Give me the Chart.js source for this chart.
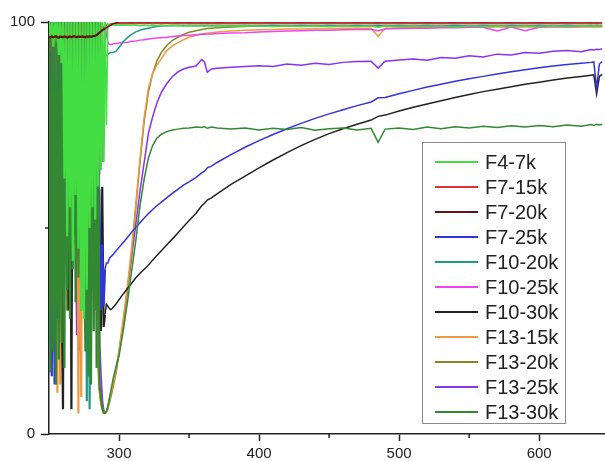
<!DOCTYPE html>
<html>
<head>
<meta charset="utf-8">
<script src="https://cdn.jsdelivr.net/npm/chart.js@4.4.1/dist/chart.umd.min.js"></script>
<style>
  html, body { margin: 0; padding: 0; background: #fff; }
  #wrap { width: 605px; height: 461px; }
</style>
</head>
<body>
<div id="wrap"><canvas id="chart" width="605" height="461"></canvas></div>
<script>
// wavelength (nm) — dense in the noisy region, coarser on the smooth part
const wavelength = [
  250, 251, 252, 253, 254, 255, 256, 257, 258, 259,
  260, 261, 262, 263, 264, 265, 266, 267, 268, 269,
  270, 271, 272, 273, 274, 275, 276, 277, 278, 279,
  280, 281, 282, 283, 284, 285, 286, 287, 288, 289,
  290, 291, 292, 293, 294, 295, 296, 298, 300, 303,
  306, 309, 312, 315, 318, 321, 324, 327, 330, 334,
  338, 342, 346, 350, 355, 359, 361, 363, 366, 370,
  380, 390, 400, 410, 420, 430, 440, 450, 460, 470,
  480, 485, 490, 500, 510, 520, 530, 540, 550, 560,
  570, 580, 590, 600, 610, 620, 630, 637, 639, 641,
  643, 645
];

const seriesNames = ['F4-7k', 'F7-15k', 'F7-20k', 'F7-25k', 'F10-20k', 'F10-25k', 'F10-30k', 'F13-15k', 'F13-20k', 'F13-25k', 'F13-30k'];
const seriesColors = ['#44dd44', '#dd3333', '#661111', '#3333dd', '#229988', '#ee44ee', '#222222', '#ee9944', '#888822', '#8833ee', '#338833'];

const f4_7k = [
  100, 96, 100, 94, 100, 97, 100, 92, 100, 90,
  100, 62, 100, 48, 100, 55, 100, 42, 100, 58,
  100, 45, 100, 30, 100, 28, 100, 35, 100, 50,
  100, 55, 100, 52, 100, 60, 100, 64, 100, 66,
  100, 75, 99.5, 99.3, 99.2, 99.3, 99.2, 99.3, 99.2, 99.3,
  99.2, 99.3, 99.2, 99.1, 99.2, 99.1, 99.2, 99.1, 99.2, 99.1,
  99.2, 99.1, 99.0, 99.1, 99.0, 99.1, 99.0, 99.1, 99.0, 99.1,
  99.0, 99.1, 99.0, 98.9, 99.0, 98.9, 99.0, 98.9, 99.0, 98.9,
  99.0, 98.7, 99.0, 98.9, 99.0, 98.9, 99.0, 98.8, 99.0, 98.9,
  99.0, 98.9, 99.0, 98.9, 99.0, 98.9, 99.1, 99.0, 99.1, 99.0,
  99.1, 99.0
];
const f7_15k = [
  100, 93, 100, 88, 100, 95, 100, 90, 100, 97,
  100, 85, 100, 96, 100, 92, 100, 89, 100, 98,
  100, 94, 100, 87, 100, 96, 100, 91, 100, 95,
  100, 97, 100, 93, 100, 98, 100, 96, 99, 98.5,
  99, 99.2, 99.3, 99.4, 99.5, 99.6, 99.6, 99.6, 99.6, 99.6,
  99.6, 99.7, 99.6, 99.7, 99.6, 99.7, 99.6, 99.7, 99.6, 99.7,
  99.6, 99.7, 99.6, 99.7, 99.6, 99.7, 99.6, 99.7, 99.6, 99.7,
  99.6, 99.7, 99.6, 99.7, 99.6, 99.7, 99.6, 99.7, 99.6, 99.7,
  99.6, 99.7, 99.6, 99.7, 99.6, 99.7, 99.6, 99.7, 99.6, 99.7,
  99.6, 99.7, 99.6, 99.7, 99.6, 99.7, 99.6, 99.7, 99.6, 99.7,
  99.6, 99.7
];
const f7_20k = [
  96.4, 96.2, 96.5, 96.3, 96.4, 96.6, 96.3, 96.2, 96.5, 96.4,
  96.3, 96.5, 96.4, 96.2, 96.4, 96.5, 96.3, 96.4, 96.6, 96.4,
  96.3, 96.5, 96.4, 96.4, 96.5, 96.4, 96.3, 96.5, 96.4, 96.5,
  96.4, 96.5, 96.6, 96.6, 96.8, 97.1, 97.4, 97.7, 98.0, 98.2,
  98.4, 98.6, 98.8, 99.0, 99.2, 99.4, 99.6, 99.8, 100, 100,
  100, 100, 100, 100, 100, 100, 100, 100, 100, 100,
  100, 100, 100, 100, 100, 100, 100, 100, 100, 100,
  100, 100, 100, 100, 100, 100, 100, 100, 100, 100,
  100, 100, 100, 100, 100, 100, 100, 100, 100, 100,
  100, 100, 100, 100, 100, 100, 100, 100, 100, 100,
  100, 100
];
const f7_25k = [
  45, 100, 14, 92, 12, 70, 28, 100, 60, 100,
  80, 100, 65, 100, 72, 100, 58, 100, 78, 100,
  66, 100, 74, 100, 55, 100, 83, 100, 62, 100,
  70, 100, 88, 58, 45, 57, 58, 30, 46, 31,
  40, 41.5, 41.5, 42.5, 43, 43.3, 43.7, 44.5, 45.3, 46.5,
  47.7, 49, 50.2, 51.3, 52.4, 53.5, 54.5, 55.4, 56.2, 57.3,
  58.4, 59.4, 60.4, 61.2, 62.3, 63.4, 63.8, 64.6, 65, 65.9,
  67.8, 69.6, 71.2, 72.7, 74.1, 75.4, 76.6, 77.7, 78.7, 79.7,
  80.6, 81.6, 81.7, 82.6, 83.4, 84.2, 84.9, 85.6, 86.2, 86.8,
  87.4, 87.9, 88.4, 88.9, 89.3, 89.7, 90.0, 90.2, 90.3, 84,
  89.8, 90.4
];
const f10_20k = [
  100, 22, 100, 27, 95, 60, 100, 72, 100, 55,
  100, 80, 100, 64, 100, 85, 100, 70, 100, 88,
  100, 76, 100, 60, 100, 82, 100, 8, 100, 6,
  100, 72, 100, 86, 100, 78, 100, 93, 90, 91,
  91.5, 92, 92.2, 92.4, 92.6, 92.6, 92.6, 92.9, 93.8, 95.2,
  96.2, 97.0, 97.6, 98.0, 98.3, 98.5, 98.7, 98.9, 99.0, 99.1,
  99.1, 99.2, 99.1, 99.2, 99.1, 99.2, 99.1, 99.2, 99.1, 99.2,
  99.1, 99.2, 99.1, 99.2, 99.1, 99.2, 99.1, 99.2, 99.1, 99.2,
  99.1, 99.2, 99.1, 99.2, 99.1, 99.2, 99.1, 99.2, 99.1, 99.2,
  99.1, 99.2, 99.1, 99.2, 99.1, 99.2, 99.1, 99.2, 99.1, 99.2,
  99.1, 99.2
];
const f10_25k = [
  100, 85, 100, 70, 100, 90, 100, 76, 100, 92,
  100, 80, 100, 88, 100, 66, 100, 84, 100, 93,
  100, 79, 100, 90, 100, 72, 100, 87, 100, 94,
  100, 82, 100, 91, 100, 88, 63, 98, 66, 80,
  100, 97, 95, 94.6, 94.5, 94.6, 94.7, 94.8, 94.9, 95.0,
  95.1, 95.3, 95.4, 95.6, 95.7, 95.9, 96.0, 96.1, 96.2, 96.3,
  96.5, 96.6, 96.7, 96.8, 96.9, 97.0, 97.0, 97.1, 97.1, 97.2,
  97.3, 97.4, 97.6, 97.7, 97.8, 97.9, 98.0, 98.0, 98.1, 98.2,
  98.2, 97.9, 98.3, 98.4, 98.5, 98.5, 98.6, 98.6, 98.7, 98.7,
  97.8, 98.8, 97.9, 98.7, 98.9, 98.8, 98.9, 99.0, 99.0, 99.0,
  99.0, 99.0
];
const f10_30k = [
  100, 70, 100, 52, 100, 64, 100, 40, 100, 35,
  6, 100, 45, 100, 30, 100, 6, 100, 50, 100,
  62, 100, 48, 100, 70, 100, 55, 100, 76, 100,
  66, 100, 80, 60, 100, 42, 33, 25, 60, 26,
  29, 31.5, 31, 30.5, 30.2, 30.4, 30.8, 31.6, 32.6, 34,
  35.3, 36.6, 37.9, 39, 40, 41, 42.2, 43.3, 44.4, 45.9,
  47.3, 48.8, 50.3, 51.8, 53.6, 55.4, 56, 56.8, 57.3, 58.3,
  60.6, 62.6, 64.6, 66.5, 68.3, 70, 71.5, 72.9, 74.1, 75.2,
  76.2, 77.1, 77.4, 78.4, 79.3, 80.1, 80.9, 81.7, 82.4, 83.1,
  83.7, 84.3, 84.9, 85.4, 85.9, 86.4, 86.8, 87.1, 87.2, 82.5,
  86.8, 87.3
];
const f13_15k = [
  100, 75, 100, 60, 100, 35, 10, 100, 12, 100,
  40, 100, 70, 100, 58, 100, 82, 100, 50, 68,
  100, 5, 100, 9, 100, 64, 100, 78, 100, 55,
  100, 70, 100, 40, 100, 25, 12, 8, 6, 5.2,
  5, 5.5, 6.5, 8, 9.5, 11, 12.5, 16, 20.5, 28,
  36, 45, 56, 67, 77, 84, 87.5, 89.5, 91, 93,
  94.2, 95, 95.7, 96.3, 96.8, 97.1, 97.2, 97.3, 97.4, 97.6,
  97.8, 98, 98.1, 98.2, 98.3, 98.3, 98.4, 98.4, 98.5, 98.5,
  98.5, 96.5, 98.5, 98.6, 98.6, 98.6, 98.7, 98.7, 98.7, 98.7,
  98.8, 98.8, 98.8, 98.8, 98.8, 98.8, 98.8, 98.8, 98.8, 98.8,
  98.8, 98.8
];
const f13_20k = [
  100, 66, 100, 45, 100, 80, 100, 38, 100, 72,
  100, 55, 100, 30, 100, 68, 100, 44, 100, 77,
  100, 60, 100, 35, 100, 50, 100, 20, 100, 65,
  100, 48, 100, 30, 100, 18, 11, 8, 6.5, 5.5,
  5, 5.2, 6, 7.3, 8.7, 10.2, 11.7, 15, 19.5, 27,
  35, 44, 55, 66, 76, 83, 87.5, 90.5, 92.5, 94.3,
  95.5, 96.3, 97, 97.5, 97.9, 98.2, 98.3, 98.4, 98.5, 98.6,
  98.8, 98.9, 99, 99, 99, 99, 99, 99, 99, 99,
  99, 98.9, 99, 99, 99, 99, 99, 99, 99, 99,
  99, 99, 99, 99, 99, 99, 99, 99, 99, 99,
  99, 99
];
const f13_25k = [
  100, 80, 100, 64, 100, 88, 33, 100, 70, 100,
  85, 100, 72, 100, 60, 100, 90, 48, 100, 57,
  24, 100, 20, 66, 52, 100, 35, 100, 74, 100,
  62, 100, 56, 100, 40, 100, 22, 14, 8, 5.5,
  5, 5.5, 6.5, 8, 9.5, 11, 12.5, 16, 20, 27,
  35, 43, 51, 59, 66, 73, 77, 80.3, 82.8, 85,
  86.7, 87.9, 88.6, 89, 89.3, 90.9, 90.3, 87.8, 88.6, 88.8,
  89, 89.2, 89.4, 89.2, 89.8, 89.5, 90, 89.7, 90.2, 90.4,
  90.5, 88.8, 90.5, 90.8, 91, 90.7, 91.4, 91.2, 91.8, 91.5,
  92.2, 92, 92.6, 92.4, 92.9, 93.1, 92.8, 93.3, 93.2, 93.4,
  93.3, 93.5
];
const f13_30k = [
  100, 15, 100, 20, 100, 12, 100, 18, 100, 22,
  100, 16, 100, 35, 100, 28, 100, 40, 100, 32,
  100, 38, 100, 30, 100, 45, 20, 100, 14, 100,
  12, 100, 25, 100, 16, 100, 12, 9, 6.5, 5.2,
  5, 5.5, 6.8, 8.5, 10.2, 12, 13.8, 16.5, 19, 25,
  32, 39.5, 47, 55.5, 62, 67, 70, 71.8, 72.7, 73.4,
  73.8, 74, 74.2, 74.3, 74.5, 74.4, 74.6, 74.2, 74.5, 74.3,
  74.0, 74.3, 73.8, 74.2, 73.9, 74.4, 73.7, 74.1, 74.3, 73.8,
  74.2, 70.8, 74.0, 74.3, 73.9, 74.5, 74.1, 74.6, 74.3, 74.7,
  74.4, 74.8, 74.5, 74.9, 74.6, 75.0, 74.7, 75.1, 74.9, 75.2,
  75.0, 75.2
];

const seriesValues = [f4_7k, f7_15k, f7_20k, f7_25k, f10_20k, f10_25k, f10_30k, f13_15k, f13_20k, f13_25k, f13_30k];
// draw order: maroon and both greens on top, the rest like the legend
const drawOrder = [1, 3, 0, 4, 5, 6, 7, 8, 9, 10, 2];

const xMajor = [300, 400, 500, 600];
const xMinor = [350, 450, 550];
const yMajor = [0, 100];
const yMinor = [50];

const ink = '#222';
const font = '"Liberation Sans", Arial, sans-serif';

const minorTicks = {
  id: 'minorTicks',
  afterDraw(chart) {
    const { ctx, scales: { x, y } } = chart;
    ctx.save();
    ctx.strokeStyle = ink; ctx.lineWidth = 1.5;
    xMinor.forEach(v => {
      const px = x.getPixelForValue(v);
      ctx.beginPath(); ctx.moveTo(px, y.bottom); ctx.lineTo(px, y.bottom + 4); ctx.stroke();
    });
    yMinor.forEach(v => {
      const py = y.getPixelForValue(v);
      ctx.beginPath(); ctx.moveTo(x.left, py); ctx.lineTo(x.left - 4, py); ctx.stroke();
    });
    ctx.restore();
  }
};

// legend sits inside the plot, in a framed box
const boxLegend = {
  id: 'boxLegend',
  afterDraw(chart) {
    const ctx = chart.ctx;
    ctx.save();
    ctx.fillStyle = '#fff';
    ctx.fillRect(422, 142, 143, 281);
    ctx.strokeStyle = '#8a8a8a'; ctx.lineWidth = 1;
    ctx.strokeRect(422.5, 142.5, 143, 281);
    ctx.font = '20px ' + font;
    ctx.textBaseline = 'middle';
    chart.data.datasets.forEach((ds, i) => {
      const yy = 162 + i * 25;
      ctx.strokeStyle = ds.borderColor; ctx.lineWidth = 2;
      ctx.beginPath(); ctx.moveTo(435, yy); ctx.lineTo(478, yy); ctx.stroke();
      ctx.fillStyle = ink;
      ctx.fillText(ds.label, 485, yy + 1);
    });
    ctx.restore();
  }
};

const datasets = seriesNames.map((name, i) => ({
  label: name,
  data: wavelength.map((w, k) => ({ x: w, y: seriesValues[i][k] })),
  borderColor: seriesColors[i],
  borderWidth: 1.5,
  // the noisy lamp region below 290 nm reads as a solid band, draw it a bit heavier
  segment: { borderWidth: c => (c.p1.parsed.x <= 290 ? 2.2 : 1.5) },
  pointRadius: 0,
  tension: 0,
  order: drawOrder[i]
}));

new Chart(document.getElementById('chart'), {
  type: 'line',
  data: { datasets },
  plugins: [minorTicks, boxLegend],
  options: {
    responsive: false, animation: false, devicePixelRatio: 1,
    layout: { padding: { top: 22, right: 0, left: 0, bottom: 0 } },
    plugins: { legend: { display: false }, tooltip: { enabled: false } },
    scales: {
      x: {
        type: 'linear', min: 250, max: 647,
        afterFit: s => { s.height = 27; },
        afterBuildTicks: s => { s.ticks = xMajor.map(v => ({ value: v })); },
        border: { color: ink, width: 1.5 },
        grid: { drawOnChartArea: false, tickLength: 7, tickColor: ink, tickWidth: 1.5 },
        ticks: { color: ink, padding: 4, maxRotation: 0, autoSkip: false, font: { family: font, size: 15 } }
      },
      y: {
        type: 'linear', min: 0, max: 100,
        afterFit: s => { s.width = 49; },
        afterBuildTicks: s => { s.ticks = yMajor.map(v => ({ value: v })); },
        border: { color: ink, width: 1.5 },
        grid: { drawOnChartArea: false, tickLength: 8, tickColor: ink, tickWidth: 1.5 },
        ticks: { color: ink, padding: 6, autoSkip: false, font: { family: font, size: 15 } }
      }
    }
  }
});
</script>
</body>
</html>
